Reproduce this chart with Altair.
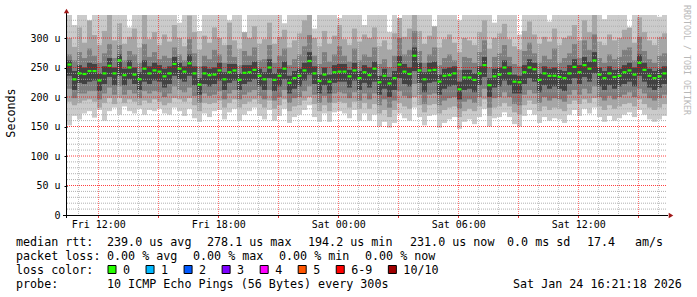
import altair as alt
import pandas as pd

# ------------------------------------------------------------------ data
# 5-min RRD steps aggregated to 15-min columns, start Fri 10:26 (hours since Fri 00:00)
START = 10.435
STEP = 0.25

median = [
    255, 230, 240, 239, 244, 244, 228, 240, 253, 240, 262, 237, 250, 238, 230, 248, 240, 245, 243, 235,
    240, 256, 248, 243, 257, 240, 221, 240, 237, 238, 245, 230, 242, 245, 229, 241, 242, 246, 236, 230,
    250, 229, 236, 248, 224, 232, 236, 245, 261, 240, 227, 238, 226, 242, 243, 243, 235, 245, 232, 242,
    237, 248, 225, 236, 223, 232, 255, 243, 239, 270, 245, 230, 245, 246, 226, 236, 237, 240, 213, 233,
    233, 229, 240, 254, 220, 235, 238, 250, 240, 226, 225, 242, 250, 247, 229, 240, 236, 236, 234, 232,
    240, 251, 242, 254, 248, 262, 238, 232, 240, 234, 236, 242, 245, 238, 258, 246, 236, 232, 235, 240,
]
ping_max = [
    350, 322, 350, 350, 328, 350, 350, 350, 335, 350, 350, 350, 318, 350, 350, 350, 350, 340, 350, 350,
    350, 350, 326, 350, 350, 350, 312, 350, 350, 350, 350, 350, 330, 350, 350, 305, 350, 350, 350, 350,
    350, 350, 350, 325, 350, 350, 350, 350, 350, 316, 350, 350, 350, 350, 334, 350, 350, 350, 350, 322,
    350, 350, 350, 350, 310, 350, 296, 350, 350, 350, 350, 350, 350, 314, 350, 350, 350, 350, 330, 350,
    350, 350, 350, 350, 350, 326, 350, 350, 350, 350, 306, 350, 350, 350, 350, 350, 328, 350, 350, 350,
    350, 350, 350, 350, 350, 350, 350, 332, 350, 350, 350, 350, 312, 350, 350, 350, 350, 350, 336, 350,
]
ping_9 = [
    300, 285, 318, 292, 330, 305, 288, 312, 340, 296, 325, 290, 302, 316, 284, 345, 298, 310, 288, 306,
    294, 322, 300, 286, 338, 310, 280, 304, 292, 318, 300, 288, 326, 296, 282, 310, 300, 320, 290, 298,
    326, 290, 302, 314, 284, 296, 308, 330, 345, 300, 286, 312, 290, 304, 322, 298, 288, 316, 294, 306,
    300, 318, 286, 296, 280, 308, 334, 302, 316, 345, 312, 290, 304, 320, 284, 298, 306, 292, 276, 300,
    296, 288, 310, 330, 282, 300, 308, 324, 298, 286, 280, 312, 328, 306, 290, 302, 294, 316, 288, 300,
    304, 322, 296, 330, 310, 340, 294, 288, 306, 296, 300, 314, 318, 292, 335, 310, 296, 288, 302, 308,
]
ping_8 = [
    272, 262, 276, 266, 282, 270, 258, 274, 290, 266, 288, 262, 278, 272, 258, 290, 268, 276, 264, 270,
    266, 284, 272, 262, 298, 274, 252, 270, 264, 280, 272, 258, 288, 268, 254, 278, 270, 284, 262, 264,
    288, 258, 270, 282, 254, 264, 272, 286, 305, 270, 256, 276, 260, 272, 286, 270, 260, 282, 262, 272,
    268, 284, 256, 264, 250, 270, 300, 272, 280, 312, 278, 258, 272, 284, 254, 266, 272, 262, 246, 268,
    266, 258, 276, 296, 250, 268, 274, 288, 268, 256, 252, 278, 292, 274, 258, 270, 264, 282, 258, 266,
    274, 290, 266, 296, 280, 306, 266, 258, 272, 264, 268, 280, 284, 262, 302, 278, 264, 258, 270, 274,
]
ping_7 = [
    262, 244, 254, 250, 258, 256, 240, 252, 266, 250, 272, 248, 262, 250, 242, 262, 252, 258, 254, 248,
    252, 268, 258, 252, 272, 252, 232, 252, 248, 250, 258, 242, 256, 256, 240, 254, 254, 260, 248, 242,
    264, 240, 248, 260, 236, 244, 248, 258, 276, 252, 238, 250, 238, 254, 256, 256, 246, 258, 244, 254,
    250, 260, 236, 248, 234, 244, 270, 256, 250, 284, 258, 242, 258, 260, 238, 248, 250, 252, 226, 246,
    246, 240, 252, 268, 232, 248, 250, 262, 252, 238, 236, 254, 264, 258, 240, 252, 248, 250, 246, 244,
    254, 264, 254, 268, 260, 276, 250, 244, 252, 246, 248, 254, 258, 250, 272, 258, 248, 244, 248, 252,
]
ping_4 = [
    236, 212, 224, 222, 226, 228, 210, 222, 234, 220, 236, 220, 230, 222, 212, 226, 222, 228, 226, 216,
    222, 236, 230, 226, 236, 220, 204, 222, 218, 222, 228, 212, 224, 228, 212, 222, 226, 230, 218, 212,
    232, 210, 218, 230, 206, 214, 218, 228, 238, 222, 206, 220, 206, 224, 226, 226, 216, 228, 212, 224,
    216, 226, 204, 214, 200, 212, 232, 222, 218, 244, 224, 208, 224, 226, 204, 214, 218, 220, 196, 212,
    214, 208, 220, 234, 200, 216, 218, 228, 220, 206, 206, 222, 232, 226, 208, 220, 214, 218, 214, 210,
    222, 232, 222, 234, 226, 240, 218, 212, 220, 214, 218, 222, 226, 218, 236, 226, 216, 212, 216, 222,
]
ping_3 = [
    214, 198, 206, 206, 210, 210, 196, 206, 216, 204, 218, 204, 212, 206, 198, 210, 206, 210, 208, 200,
    206, 218, 212, 208, 216, 202, 190, 206, 202, 204, 210, 196, 206, 212, 196, 204, 208, 212, 202, 196,
    212, 194, 200, 212, 190, 198, 200, 210, 218, 204, 190, 202, 190, 206, 208, 206, 198, 208, 194, 206,
    196, 206, 186, 196, 182, 194, 210, 202, 198, 222, 204, 188, 204, 206, 186, 194, 198, 200, 180, 192,
    196, 190, 200, 214, 182, 198, 200, 208, 200, 188, 186, 204, 212, 206, 190, 200, 194, 198, 196, 192,
    204, 212, 204, 214, 206, 218, 200, 194, 202, 196, 200, 204, 208, 200, 214, 206, 198, 194, 198, 204,
]
ping_2 = [
    192, 186, 190, 194, 196, 192, 182, 190, 198, 188, 198, 190, 196, 192, 186, 194, 190, 196, 192, 186,
    190, 198, 196, 192, 198, 186, 176, 190, 188, 190, 194, 182, 190, 196, 182, 188, 192, 196, 188, 182,
    194, 180, 186, 196, 176, 184, 186, 194, 200, 188, 176, 186, 176, 190, 192, 190, 182, 192, 180, 190,
    180, 188, 172, 178, 166, 178, 190, 184, 180, 200, 186, 174, 186, 188, 172, 178, 182, 184, 166, 176,
    180, 176, 184, 196, 168, 182, 184, 190, 184, 174, 170, 186, 194, 188, 176, 184, 178, 182, 180, 176,
    188, 194, 188, 196, 190, 198, 184, 178, 186, 180, 184, 188, 190, 184, 196, 188, 182, 178, 182, 188,
]
ping_min = [
    152, 168, 162, 172, 176, 165, 178, 160, 176, 182, 170, 184, 176, 172, 180, 170, 178, 176, 180, 172,
    170, 182, 176, 168, 180, 164, 158, 172, 166, 176, 178, 162, 174, 180, 160, 170, 176, 182, 168, 162,
    178, 160, 168, 180, 156, 166, 170, 178, 186, 166, 158, 172, 158, 174, 176, 172, 164, 178, 160, 172,
    160, 170, 150, 158, 148, 156, 172, 164, 160, 182, 166, 152, 168, 170, 148, 156, 162, 166, 146, 158,
    162, 154, 166, 180, 150, 164, 166, 174, 166, 154, 150, 168, 178, 170, 156, 166, 160, 164, 162, 156,
    170, 178, 168, 180, 172, 182, 166, 158, 168, 160, 164, 170, 174, 166, 178, 170, 162, 158, 162, 168,
]

y_ticks = [0, 50, 100, 150, 200, 250, 300]
x_ticks = [12, 18, 24, 30, 36]
x_tick_labels = ["Fri 12:00", "Fri 18:00", "Sat 00:00", "Sat 06:00", "Sat 12:00"]

stat_rtt = ["median rtt:", "239.0 us avg", "278.1 us max", "194.2 us min",
            "231.0 us now", "0.0 ms sd", "17.4", "am/s"]
stat_loss = ["packet loss:", "0.00 % avg", "0.00 % max", "0.00 % min", "0.00 % now"]
loss_title = "loss color:"
loss_labels = ["0", "1", "2", "3", "4", "5", "6-9", "10/10"]
loss_colors = ["#26ff00", "#00b8ff", "#0059ff", "#7e00ff", "#ff00ff", "#ff5500", "#ff0000", "#a00000"]
probe_text = ["probe:", "10 ICMP Echo Pings (56 Bytes) every 300s", "Sat Jan 24 16:21:18 2026"]
watermark = "RRDTOOL / TOBI OETIKER"
y_title = "Seconds"

# ------------------------------------------------------------------ layout
W, H = 600, 200
X0, Y0 = 67, 15            # plot origin on the canvas
MONO = "DejaVu Sans Mono"
LFS = 11.7                 # legend font size
CH = 7.04                  # monospace advance at LFS

n = len(median)
df = pd.DataFrame({
    "t": [START + STEP * i for i in range(n)],
    "med": median, "p1": ping_min, "p2": ping_2, "p3": ping_3, "p4": ping_4,
    "p7": ping_7, "p8": ping_8, "p9": ping_9, "p10": ping_max,
})
df["t2"] = df["t"] + STEP
df["tm"] = df["t"] + STEP / 2

xs = alt.Scale(domain=[START, START + 30], nice=False, zero=False)
ys = alt.Scale(domain=[0, 339], nice=False, zero=False)

x_expr = "".join(f"datum.value == {v} ? '{l}' : " for v, l in zip(x_ticks, x_tick_labels)) + "''"
XA = alt.Axis(values=x_ticks, labelExpr=x_expr, domain=False, grid=False, ticks=False,
              labelFont=MONO, labelFontSize=10, labelColor="#000000", labelPadding=4,
              title=None)
YA = alt.Axis(values=y_ticks, labelExpr="datum.value == 0 ? '0' : datum.value + ' u'",
              domain=False, grid=False, ticks=True, tickSize=3, tickColor="#000000",
              labelFont=MONO, labelFontSize=10, labelColor="#000000", labelPadding=4,
              title=None)

base = alt.Chart(df)


def band(lo, hi, color):
    return base.mark_rect(color=color, clip=True, strokeWidth=0).encode(
        x=alt.X("t:Q", scale=xs, axis=XA), x2="t2:Q",
        y=alt.Y(f"{lo}:Q", scale=ys, axis=YA), y2=f"{hi}:Q",
    )


smoke = [
    band("p1", "p10", "#cbcbcb"),
    band("p2", "p9", "#a6a6a6"),
    band("p3", "p8", "#7e7e7e"),
    band("p4", "p7", "#424242"),
]

# grid
h_minor = [v for v in range(10, 339, 10) if v % 50 != 0]
h_major = [v for v in range(50, 339, 50)]
v_minor = [h for h in range(11, 41) if h % 3 != 0]
v_major = [h for h in range(12, 41, 3)]


def hgrid(vals, color, op):
    return alt.Chart(pd.DataFrame({"v": vals})).mark_rule(
        stroke=color, strokeOpacity=op, strokeDash=[1, 1], strokeWidth=1).encode(
        y=alt.Y("v:Q", scale=ys, axis=YA), x=alt.value(0), x2=alt.value(W))


def vgrid(vals, color, op):
    return alt.Chart(pd.DataFrame({"h": vals})).mark_rule(
        stroke=color, strokeOpacity=op, strokeDash=[1, 1], strokeWidth=1, xOffset=0.2).encode(
        x=alt.X("h:Q", scale=xs, axis=XA), y=alt.value(0), y2=alt.value(H))


grid = [
    hgrid(h_minor, "#a8a8a8", 0.9), vgrid(v_minor, "#c4c4c4", 1.0),
    hgrid(h_major, "#ff0000", 0.75), vgrid(v_major, "#ff0000", 0.55),
]
xtick_marks = alt.Chart(pd.DataFrame({"h": v_major})).mark_rule(
    stroke="#e04040", strokeWidth=1, xOffset=0.2).encode(
    x=alt.X("h:Q", scale=xs, axis=XA), y=alt.value(H), y2=alt.value(H + 3))

med_layer = base.mark_tick(orient="horizontal", color="#26ff00", size=4, thickness=2.2,
                           opacity=1).encode(
    x=alt.X("tm:Q", scale=xs, axis=XA), y=alt.Y("med:Q", scale=ys, axis=YA))

# axis lines and arrows
axis_df = pd.DataFrame({"k": [0]})
y_axis_line = alt.Chart(axis_df).mark_rule(color="#000000", strokeWidth=1).encode(
    x=alt.value(-0.5), y=alt.value(H + 3), y2=alt.value(-3))
x_axis_line = alt.Chart(axis_df).mark_rule(color="#000000", strokeWidth=1).encode(
    y=alt.value(H + 0.5), x=alt.value(-4), x2=alt.value(W + 1))
arrow_up = alt.Chart(axis_df).mark_point(shape="triangle-up", filled=True, color="#a01818",
                                         size=28, opacity=1).encode(
    x=alt.value(-0.5), y=alt.value(-4))
arrow_right = alt.Chart(axis_df).mark_point(shape="triangle-right", filled=True, color="#a01818",
                                            size=28, opacity=1).encode(
    x=alt.value(W + 4), y=alt.value(H + 0.5))

# legend texts (canvas positions converted to plot coordinates)
rows_y = [241.5, 255.5, 269.5, 283.5]
rtt_x = [16, 107, 207, 308, 410, 507, 587, 635]
loss_x = [16, 107, 193, 279, 365]
txt = []
for s, x in zip(stat_rtt, rtt_x):
    txt.append((s, x, rows_y[0]))
for s, x in zip(stat_loss, loss_x):
    txt.append((s, x, rows_y[1]))
txt.append((loss_title, 16, rows_y[2]))
txt.append((probe_text[0], 16, rows_y[3]))
txt.append((probe_text[1], 107, rows_y[3]))
txt.append((probe_text[2], 513, rows_y[3]))

box_x = []
bx = 108.0
for lab in loss_labels:
    box_x.append(bx)
    txt.append((lab, bx + 15, rows_y[2]))
    bx += 15 + len(lab) * CH + 16

tdf = pd.DataFrame(txt, columns=["s", "x", "y"])
tdf["px"] = tdf["x"] - X0
tdf["py"] = tdf["y"] - Y0
legend_text = alt.Chart(tdf).mark_text(font=MONO, fontSize=LFS, align="left", baseline="middle",
                                       color="#000000").encode(
    x=alt.X("px:Q", scale=None), y=alt.Y("py:Q", scale=None), text="s:N")

bdf = pd.DataFrame({"lab": loss_labels, "col": loss_colors, "x": box_x})
bdf["px"] = bdf["x"] + 4 - X0
bdf["py"] = rows_y[2] - Y0
boxes = alt.Chart(bdf).mark_square(size=64, stroke="#000000", strokeWidth=1, opacity=1).encode(
    x=alt.X("px:Q", scale=None), y=alt.Y("py:Q", scale=None),
    fill=alt.Fill("col:N", scale=None))

title_df = pd.DataFrame({"s": [y_title]})
y_title_mark = alt.Chart(title_df).mark_text(font=MONO, fontSize=LFS, angle=270, align="center",
                                             baseline="middle", color="#000000").encode(
    x=alt.value(11 - X0), y=alt.value(113 - Y0), text="s:N")
wm_df = pd.DataFrame({"s": [watermark]})
wm_mark = alt.Chart(wm_df).mark_text(font=MONO, fontSize=8.3, angle=90, align="center",
                                     baseline="middle", color="#b8b8b8").encode(
    x=alt.value(686 - X0), y=alt.value(60 - Y0), text="s:N")

chart = alt.layer(
    *smoke, *grid, med_layer, xtick_marks, y_axis_line, x_axis_line, arrow_up, arrow_right,
    legend_text, boxes, y_title_mark, wm_mark,
).properties(
    width=W, height=H,
    padding={"left": X0, "top": Y0, "right": 697 - X0 - W, "bottom": 297 - Y0 - H},
    autosize=alt.AutoSizeParams(type="none"),
    background="#ffffff",
).configure_view(stroke=None)

chart.save("out.html", embed_options={"renderer": "svg", "actions": False})
